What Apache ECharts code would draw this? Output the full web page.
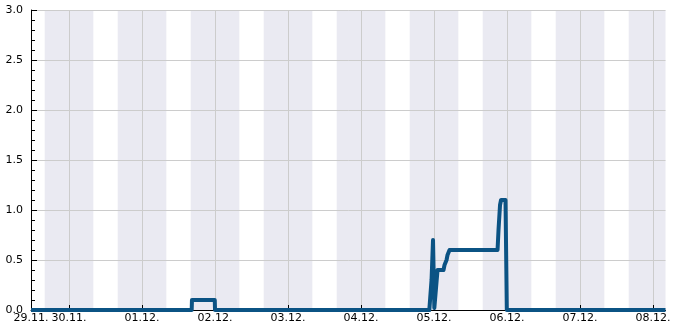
<!DOCTYPE html>
<html><head><meta charset="utf-8">
<script src="https://cdn.jsdelivr.net/npm/echarts@6/dist/echarts.min.js"></script>
<style>html,body{margin:0;padding:0;background:#fff}#c{width:685px;height:330px}</style>
</head><body><div id="c"></div>
<script>
// ---- data ----
const axisRange = ['2020-11-29 11:30', '2020-12-08 04:06'];
const dayTicks = ['2020-11-30 00:00','2020-12-01 00:00','2020-12-02 00:00','2020-12-03 00:00','2020-12-04 00:00','2020-12-05 00:00','2020-12-06 00:00','2020-12-07 00:00','2020-12-08 00:00'];
const nightStarts = ['2020-11-29 16:00','2020-11-30 16:00','2020-12-01 16:00','2020-12-02 16:00','2020-12-03 16:00','2020-12-04 16:00','2020-12-05 16:00','2020-12-06 16:00','2020-12-07 16:00'];
const nightEnds   = ['2020-11-30 08:00','2020-12-01 08:00','2020-12-02 08:00','2020-12-03 08:00','2020-12-04 08:00','2020-12-05 08:00','2020-12-06 08:00','2020-12-07 08:00','2020-12-08 08:00'];
const lineTimes = [
 '2020-11-29 11:30','2020-12-01 16:20','2020-12-01 16:25','2020-12-01 23:55','2020-12-02 00:00',
 '2020-12-04 22:27','2020-12-04 23:11','2020-12-04 23:40','2020-12-04 23:56','2020-12-05 00:06','2020-12-05 01:09',
 '2020-12-05 03:07','2020-12-05 03:27','2020-12-05 04:07','2020-12-05 04:26','2020-12-05 05:06',
 '2020-12-05 20:53','2020-12-05 21:12','2020-12-05 21:42','2020-12-05 22:02','2020-12-05 23:30','2020-12-05 23:50',
 '2020-12-05 23:56','2020-12-08 04:06'];
const lineValues = [
 0,0,0.1,0.1,0,
 0,0.3,0.7,0.7,0.02,0.4,
 0.4,0.45,0.5,0.55,0.6,
 0.6,0.8,1.05,1.1,1.1,1.08,
 0,0];
const yTicks = {min:0, max:3, interval:0.5};

function ts(s){const [d,t]=s.split(' ');const [Y,M,D]=d.split('-').map(Number);const [h,m]=t.split(':').map(Number);return new Date(Y,M-1,D,h,m).getTime();}
const xMin = ts(axisRange[0]), xMax = ts(axisRange[1]);
const pad = n => (n<10?'0':'')+n;

const chart = echarts.init(document.getElementById('c'), null, {renderer:'canvas'});
chart.setOption({
  animation:false,
  textStyle:{fontFamily:'DejaVu Sans'},
  grid:{left:31, right:19.5, top:10, bottom:20, containLabel:false},
  xAxis:{
    type:'value', min:xMin, max:xMax, z:2, scale:true,
    axisLine:{show:true, onZero:false, lineStyle:{color:'#000', width:1}},
    axisTick:{show:true, inside:true, length:5, lineStyle:{color:'#000'}, customValues: dayTicks.map(ts)},
    axisLabel:{color:'#000', fontSize:11, fontFamily:'DejaVu Sans', margin:3, customValues:[xMin].concat(dayTicks.map(ts)),
      formatter:v=>{const d=new Date(v);return pad(d.getDate())+'.'+pad(d.getMonth()+1)+'.';}},
    splitLine:{show:true, lineStyle:{color:'#cccccc', width:1}},
    minorTick:{show:false}
  },
  yAxis:{
    type:'value', min:yTicks.min, max:yTicks.max, interval:yTicks.interval, z:2,
    axisLine:{show:true, lineStyle:{color:'#000', width:1}},
    axisTick:{show:true, inside:true, length:6, lineStyle:{color:'#000'}},
    minorTick:{show:true, splitNumber:5, length:4, lineStyle:{color:'#000'}},
    axisLabel:{color:'#000', fontSize:11, fontFamily:'DejaVu Sans', margin:8, formatter:v=>v.toFixed(1)},
    splitLine:{show:true, lineStyle:{color:'#cccccc', width:1}}
  },
  series:[
    {
      type:'custom', z:1, silent:true, clip:true,
      data: nightStarts.map((s,i)=>[ts(s), ts(nightEnds[i])]),
      encode:{x:[0,1]},
      renderItem:(params, api)=>{
        const a = api.coord([api.value(0), yTicks.max]);
        const b = api.coord([api.value(1), yTicks.min]);
        const rect = echarts.graphic.clipRectByRect({x:a[0], y:a[1], width:b[0]-a[0], height:b[1]-a[1]},
          {x:params.coordSys.x, y:params.coordSys.y, width:params.coordSys.width, height:params.coordSys.height});
        if(!rect) return;
        return {type:'rect', shape:rect, style:{fill:'#eaeaf2'}};
      }
    },
    {
      type:'line', z:3, symbol:'none', silent:true,
      data: lineTimes.map((t,i)=>[ts(t), lineValues[i]]),
      lineStyle:{color:'#0b5384', width:4, join:'round'}
    }
  ]
});
</script></body></html>
